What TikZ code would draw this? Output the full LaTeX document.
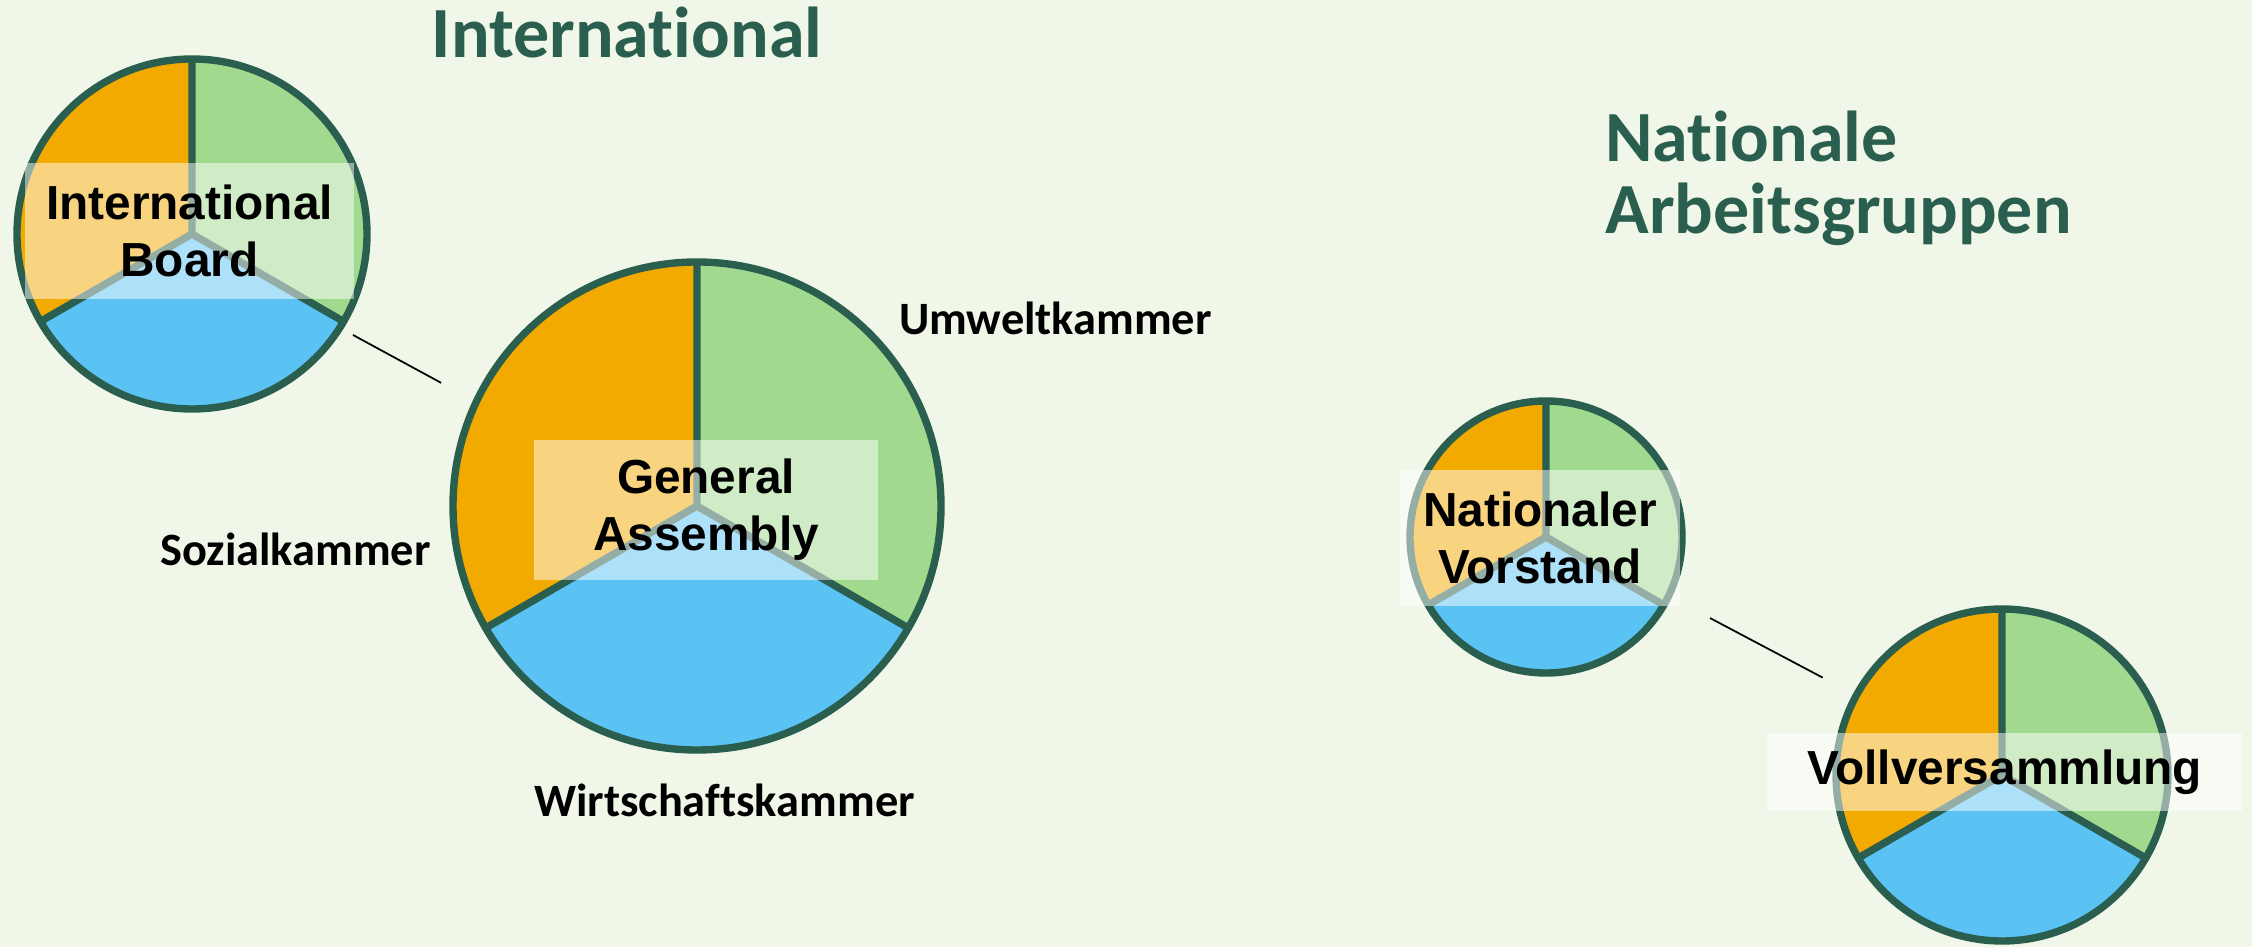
\documentclass[tikz,border=0pt]{standalone}
\usepackage{fontspec}
\setmainfont{Liberation Sans}
\newfontfamily\calibri[Ligatures=NoCommon]{Carlito}
\usetikzlibrary{calc}

\definecolor{bgcol}{RGB}{240,247,232}
\definecolor{darkgreen}{RGB}{42,94,78}
\definecolor{pieorange}{RGB}{242,169,0}
\definecolor{piegreen}{RGB}{161,218,143}
\definecolor{pieblue}{RGB}{91,194,244}

\tikzset{
  pieline/.style={draw=darkgreen, line width=2.1pt},
  piebox/.style={fill=white, fill opacity=0.5, text opacity=1, inner sep=0pt, align=center,
    font=\bfseries\fontsize{13.6}{16.3}\selectfont},
  kammer/.style={font=\calibri\bfseries\fontsize{13.2}{15}\selectfont, anchor=base},
  title/.style={font=\calibri\bfseries\fontsize{20.5}{20.5}\selectfont, text=darkgreen},
  link/.style={draw=black, line width=0.5pt}
}

% pie with three chambers: centre, radius
\newcommand{\piechart}[2]{%
  \fill[pieorange] (#1) -- ++(90:#2) arc (90:210:#2) -- cycle;
  \fill[piegreen] (#1) -- ++(-30:#2) arc (-30:90:#2) -- cycle;
  \fill[pieblue] (#1) -- ++(210:#2) arc (210:330:#2) -- cycle;
  \draw[pieline] (#1) circle (#2);
  \draw[pieline] (#1) -- ++(90:#2) (#1) -- ++(210:#2) (#1) -- ++(330:#2);
}

\begin{document}
\begin{tikzpicture}
	\fill[bgcol] (0,0) rectangle (22.52,9.47);
	\useasboundingbox (0,0) rectangle (22.52,9.47);

	\coordinate (board) at (1.92,7.13);
	\coordinate (ga) at (6.97,4.41);
	\coordinate (nv) at (15.46,4.10);
	\coordinate (vv) at (20.02,1.72);

	\piechart{board}{1.75}
	\piechart{ga}{2.44}
	\piechart{nv}{1.36}
	\piechart{vv}{1.66}

	\node[piebox, minimum width=3.29cm, minimum height=1.36cm] (boardtxt) at (1.895,7.16) {International\\Board};
	\node[piebox, minimum width=3.44cm, minimum height=1.40cm] (gatxt) at (7.06,4.37) {General\\Assembly};
	\node[piebox, minimum width=2.80cm, minimum height=1.36cm] (nvtxt) at (15.40,4.09) {Nationaler\\Vorstand};
	\node[piebox, minimum width=4.75cm, minimum height=0.78cm] (vvtxt) at (20.045,1.75) {Vollversammlung};

	\node[kammer] (umwelt) at (10.555,6.12) {Umweltkammer};
	\node[kammer] (sozial) at (2.955,3.81) {Sozialkammer};
	\node[kammer] (wirtschaft) at (7.245,1.30) {Wirtschaftskammer};

	\node[title, anchor=base] (intl) at (6.27,8.89) {International};
	\node[title, anchor=base west, align=left] (natl) at (15.93,7.13) {Nationale\\Arbeitsgruppen};

	\draw[link] ([shift={(-32.1:1.90)}]board) -- ([shift={(154.3:2.84)}]ga);
	\draw[link] ([shift={(-26.3:1.83)}]nv) -- ([shift={(151.5:2.04)}]vv);
\end{tikzpicture}
\end{document}
